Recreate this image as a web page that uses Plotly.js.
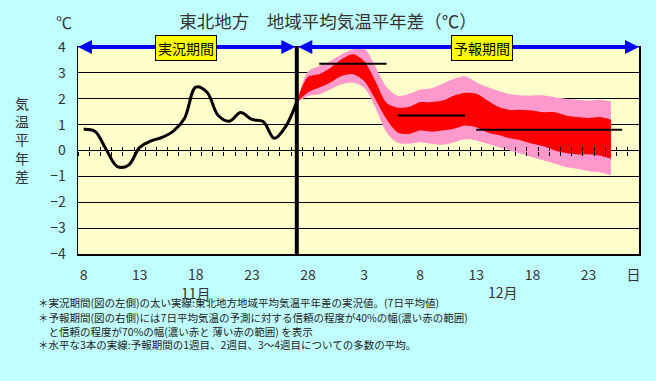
<!DOCTYPE html>
<html><head><meta charset="utf-8">
<script src="https://cdn.plot.ly/plotly-3.0.1.min.js"></script>
<style>html,body{margin:0;padding:0;background:#C0FFFF;} #chart{width:656px;height:381px;}</style>
</head><body><div id="chart"></div>
<script>
// Day index 0 = Nov 8 ... 49 = Dec 27
const obsDay = [0,1,2,3,4,5,6,7,8,9,10,11,12,13,14,15,16,17,18,19];
const obsVal = [0.82,0.74,0.05,-0.62,-0.57,0.12,0.37,0.51,0.75,1.25,2.45,2.25,1.35,1.13,1.47,1.2,1.12,0.47,0.92,1.88];

const fcDay = [19,20,21,22,23,24,25,26,27,28,29,30,31,32,33,34,35,36,37,38,39,40,41,42,43,44,45,46,47];
const outerUpper = [1.92,3.05,3.27,3.46,3.72,3.91,3.95,3.25,2.45,2.11,2.19,2.36,2.41,2.58,2.77,2.87,2.64,2.45,2.3,2.18,2.13,2.13,2.13,2.06,2.0,1.96,1.93,1.96,1.9];
const innerUpper = [1.9,2.85,2.95,3.2,3.53,3.72,3.46,2.69,1.85,1.66,1.68,1.87,1.87,1.93,2.12,2.23,2.19,1.93,1.68,1.57,1.57,1.55,1.48,1.48,1.35,1.29,1.26,1.29,1.19];
const innerLower = [1.86,2.24,2.43,2.63,2.88,2.95,2.69,1.98,1.21,0.7,0.64,0.77,0.73,0.77,0.84,0.97,0.9,0.7,0.6,0.47,0.39,0.26,0.16,0.0,-0.1,-0.15,-0.15,-0.19,-0.32];
const outerLower = [1.84,2.11,2.17,2.37,2.56,2.63,2.43,1.66,0.7,0.3,0.26,0.32,0.26,0.22,0.32,0.43,0.39,0.26,0.13,0.0,-0.13,-0.26,-0.39,-0.51,-0.64,-0.71,-0.8,-0.84,-0.96];

const weekStart = [21,28,35];
const weekEnd = [27,34,48];
const weekMean = [3.35,1.35,0.8];

const tickDays = [0,5,10,15,20,25,30,35,40,45,49];
const tickText = ['8','13','18','23','28','3','8','13','18','23','日'];
const monthDays = [10,37.4];
const monthText = ['11月','12月'];

const notes = [
 '＊実況期間(図の左側)の太い実線:東北地方地域平均気温平年差の実況値。(7日平均値)',
 '＊予報期間(図の右側)には7日平均気温の予測に対する信頼の程度が40%の幅(濃い赤の範囲)<br>　と信頼の程度が70%の幅(濃い赤と 薄い赤の範囲) を表示',
 '＊水平な3本の実線:予報期間の1週目、2週目、3～4週目についての多数の平均。'
];

const FONT = '"Noto Sans CJK JP", "Noto Sans", sans-serif';
const wx = [], wy = [];
for (let i = 0; i < weekMean.length; i++) {
  wx.push(weekStart[i], weekEnd[i], null);
  wy.push(weekMean[i], weekMean[i], null);
}

// month names that sit under a tick go into that tick's label (second line)
const tickLabels = tickText.slice();
const looseMonths = [];
for (let i = 0; i < monthText.length; i++) {
  const k = tickDays.indexOf(monthDays[i]);
  if (k >= 0) tickLabels[k] += '<br>' + monthText[i];
  else looseMonths.push(i);
}

const sp = {shape:'spline', smoothing:0.8, width:0};
const traces = [
  {x:fcDay, y:outerLower, mode:'lines', line:sp, hoverinfo:'skip'},
  {x:fcDay, y:outerUpper, mode:'lines', line:sp, fill:'tonexty', fillcolor:'#FF99CC', hoverinfo:'skip'},
  {x:fcDay, y:innerLower, mode:'lines', line:sp, hoverinfo:'skip'},
  {x:fcDay, y:innerUpper, mode:'lines', line:sp, fill:'tonexty', fillcolor:'#FF0000', hoverinfo:'skip'},
  {x:wx, y:wy, mode:'lines', line:{color:'#000', width:2}, hoverinfo:'skip'},
  {x:obsDay, y:obsVal, mode:'lines', line:{color:'#000', width:3, shape:'spline', smoothing:1}, hoverinfo:'skip'},
  {x:[null], y:[null], xaxis:'x2', yaxis:'y', hoverinfo:'skip'},
  {x:[null], y:[null], xaxis:'x3', yaxis:'y', hoverinfo:'skip'}
];

const tickAx = (dir) => ({
  overlaying:'x', anchor:'free', position:0.5, range:[-0.5,49.5],
  tickmode:'linear', tick0:-0.5, dtick:1, ticks:dir, ticklen:4, tickwidth:1, tickcolor:'#000',
  showticklabels:false, showgrid:false, zeroline:false, showline:false, fixedrange:true
});

const txt = (o) => Object.assign({showarrow:false, xanchor:'center', yanchor:'middle'}, o);
const annotations = [
  {xref:'x', yref:'y', axref:'x', ayref:'y', x:-0.5, y:4, ax:fcDay[0], ay:4, text:'', showarrow:true,
   arrowhead:2, startarrowhead:2, arrowside:'end+start', arrowsize:0.7, startarrowsize:0.7, arrowwidth:4,
   arrowcolor:'#0000FF', standoff:0, startstandoff:0},
  {xref:'x', yref:'y', axref:'x', ayref:'y', x:49.5, y:4, ax:fcDay[0], ay:4, text:'', showarrow:true,
   arrowhead:2, startarrowhead:2, arrowside:'end+start', arrowsize:0.7, startarrowsize:0.7, arrowwidth:4,
   arrowcolor:'#0000FF', standoff:0, startstandoff:0},
  txt({xref:'paper', yref:'y', x:0.1925, y:4, yshift:-1, text:'実況期間', bgcolor:'#FFFF00',
   bordercolor:'#000', borderwidth:1, borderpad:2, font:{family:FONT, size:14, color:'#000'}}),
  txt({xref:'paper', yref:'y', x:0.7198, y:4, yshift:-1, text:'予報期間', bgcolor:'#FFFF00',
   bordercolor:'#000', borderwidth:1, borderpad:2, font:{family:FONT, size:14, color:'#000'}}),
  txt({xref:'paper', yref:'paper', x:-0.025, y:1.121, text:'℃', font:{family:FONT, size:16, color:'#333'}}),
  txt({xref:'paper', yref:'paper', x:-0.0998, y:0.551, text:'気<br>温<br>平<br>年<br>差',
   font:{family:FONT, size:14, color:'#333'}})
];
for (const i of looseMonths) {
  annotations.push(txt({xref:'x', yref:'paper', x:monthDays[i], y:-0.1836, text:monthText[i], borderpad:0,
    font:{family:FONT, size:14, color:'#333'}}));
}
// centres: line1 303, lines 2-3 block centre ~324, line4 344
const noteY = [-0.2367,-0.3382,-0.4348];
for (let i = 0; i < notes.length; i++) {
  annotations.push(txt({xref:'paper', yref:'paper', x:-0.0731, y:noteY[i], xanchor:'left', align:'left',
    text:notes[i], borderpad:0, font:{family:FONT, size:10.5, color:'#222'}}));
}

const layout = {
  width:656, height:381,
  margin:{l:78, r:17, t:47, b:127, pad:0},
  paper_bgcolor:'#C0FFFF', plot_bgcolor:'#FFFFCC',
  showlegend:false,
  font:{family:FONT, color:'#333'},
  title:{text:'東北地方　地域平均気温平年差（℃）', x:0.5, xref:'container', xanchor:'center', y:0.942, yref:'container', yanchor:'middle',
         font:{family:FONT, size:17.5, color:'#333'}},
  xaxis:{range:[-0.5,49.5], tickmode:'array', tickvals:tickDays, ticktext:tickLabels, ticks:'',
         showgrid:false, zeroline:false, showline:true, mirror:true, linecolor:'#000', linewidth:1.5,
         tickfont:{family:FONT, size:14, color:'#333'}, ticklabelstandoff:8, fixedrange:true},
  xaxis2:tickAx('outside'),
  xaxis3:tickAx('inside'),
  yaxis:{range:[-4,4], tickmode:'array', tickvals:[-4,-3,-2,-1,0,1,2,3,4], ticks:'',
         showgrid:true, gridcolor:'#000', gridwidth:1, zeroline:true, zerolinecolor:'#000', zerolinewidth:1,
         showline:true, mirror:true, linecolor:'#000', linewidth:1.5,
         tickfont:{family:FONT, size:14, color:'#333'}, ticklabelstandoff:8, fixedrange:true},
  shapes:[{type:'line', xref:'x', yref:'paper', x0:fcDay[0], x1:fcDay[0], y0:0, y1:1,
           line:{color:'#000', width:4}, layer:'above'}],
  annotations:annotations
};
Plotly.newPlot('chart', traces, layout, {staticPlot:true});
</script></body></html>
